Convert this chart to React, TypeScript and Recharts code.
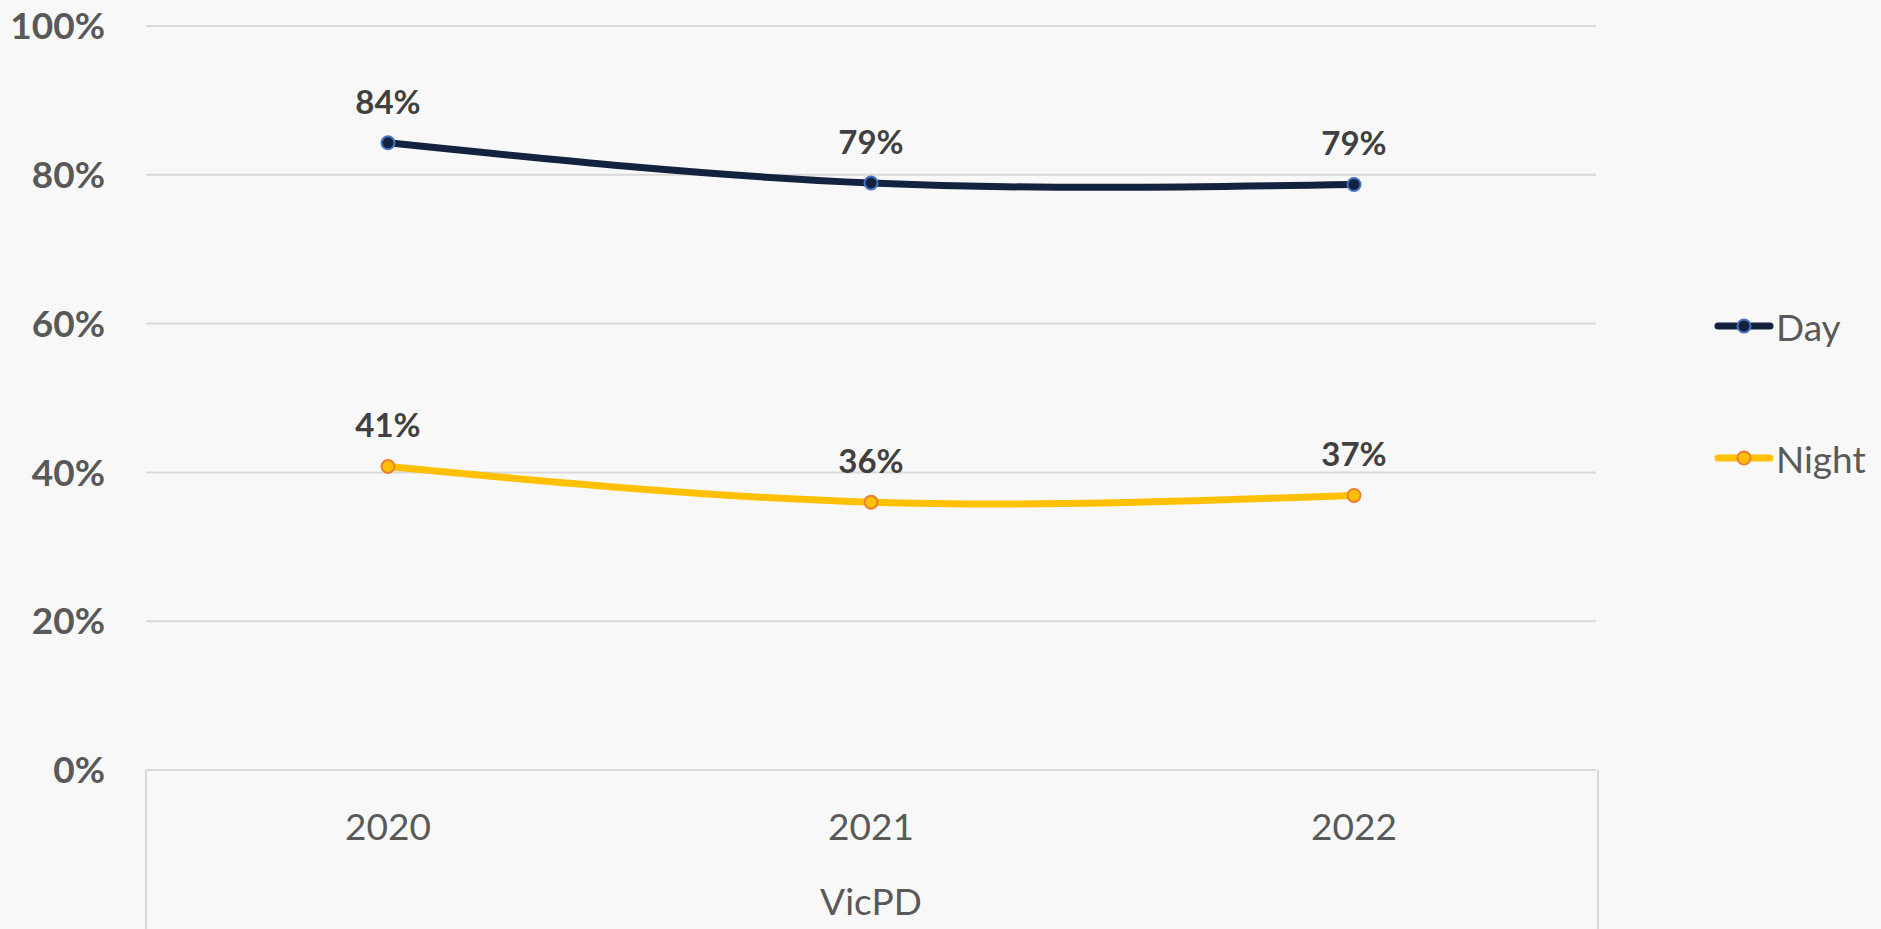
import React from 'react';
import {
  LineChart,
  Line,
  XAxis,
  YAxis,
  CartesianGrid,
  Legend,
  LabelList,
} from 'recharts';

document.body.style.margin = '0';

const YEARS = ['2020', '2021', '2022'];
const DAY = [0.843, 0.789, 0.787];
const NIGHT = [0.408, 0.36, 0.369];
const Y_TICKS = [0, 0.2, 0.4, 0.6, 0.8, 1];

const FONT = 'Lato, "Open Sans", sans-serif';
const W = 1881;
const H = 929;
const LEGEND_W = 170;
const PLOT_LEFT = 146;
const PLOT_RIGHT = 1596;
const AXIS_Y = 770;
// legend (vertical, right) eats LEGEND_W from the right offset
const MARGIN = { top: 26, right: W - PLOT_RIGHT - LEGEND_W, left: 0, bottom: 0 };
const HALF_BAND = Math.round((PLOT_RIGHT - PLOT_LEFT) / YEARS.length / 2);

const data = YEARS.map((year, i) => ({ year, day: DAY[i], night: NIGHT[i] }));

const pct = (v: number) => `${Math.round(v * 100)}%`;

function XTick(props: any) {
  const { x, y, payload } = props;
  return (
    <text
      x={x}
      y={y + 53}
      textAnchor="middle"
      dominantBaseline="central"
      fontFamily={FONT}
      fontSize={37}
      fill="#595959"
    >
      {payload.value}
    </text>
  );
}

function LegendContent(props: any) {
  const items = props.payload || [];
  return (
    <div style={{ fontFamily: FONT }}>
      {items.map((it: any) => {
        const fill = it.payload?.dot?.fill ?? it.color;
        const stroke = it.payload?.dot?.stroke ?? it.color;
        return (
          <div key={it.value} style={{ display: 'flex', alignItems: 'center', height: 40, marginBottom: 92 }}>
            <svg width={60} height={20} style={{ marginRight: 2 }}>
              <line x1={4} y1={10} x2={56} y2={10} stroke={it.color} strokeWidth={7} strokeLinecap="round" />
              <circle cx={30} cy={10} r={6.5} fill={fill} stroke={stroke} strokeWidth={2} />
            </svg>
            <span style={{ fontSize: 37, color: '#595959' }}>{it.value}</span>
          </div>
        );
      })}
    </div>
  );
}

const labelProps = {
  position: 'top' as const,
  offset: 29,
  formatter: pct,
  fill: '#404040',
  fontSize: 33,
  fontWeight: 700,
  fontFamily: FONT,
};

export default function App() {
  return (
    <div style={{ position: 'relative', width: W, height: H, background: '#F8F8F8' }}>
      <LineChart width={W} height={H} data={data} margin={MARGIN}>
        <CartesianGrid vertical={false} stroke="#D9D9D9" strokeWidth={2} />
        <XAxis
          dataKey="year"
          height={H - AXIS_Y}
          padding={{ left: HALF_BAND, right: HALF_BAND }}
          axisLine={{ stroke: '#D9D9D9', strokeWidth: 2 }}
          tickLine={false}
          tickSize={0}
          tick={<XTick />}
          interval={0}
          label={{
            value: 'VicPD',
            position: 'insideBottom',
            offset: 14,
            fill: '#595959',
            fontSize: 37,
            fontFamily: FONT,
          }}
        />
        <YAxis
          width={PLOT_LEFT}
          domain={[0, 1]}
          ticks={Y_TICKS}
          tickFormatter={pct}
          axisLine={false}
          tickLine={false}
          tickSize={0}
          tickMargin={41}
          tick={{ fontSize: 37, fontWeight: 700, fill: '#595959', fontFamily: FONT }}
        />
        <Legend
          layout="vertical"
          verticalAlign="top"
          align="right"
          content={<LegendContent />}
          wrapperStyle={{ left: 1714, top: 306, width: LEGEND_W }}
        />
        <Line
          name="Day"
          dataKey="day"
          type="natural"
          stroke="#13233F"
          strokeWidth={7}
          dot={{ r: 6.5, fill: '#13233F', stroke: '#4472C4', strokeWidth: 2 }}
          activeDot={false}
          isAnimationActive={false}
        >
          <LabelList dataKey="day" {...labelProps} />
        </Line>
        <Line
          name="Night"
          dataKey="night"
          type="natural"
          stroke="#FFC000"
          strokeWidth={7}
          dot={{ r: 6.5, fill: '#FFC000', stroke: '#ED7D31', strokeWidth: 2 }}
          activeDot={false}
          isAnimationActive={false}
        >
          <LabelList dataKey="night" {...labelProps} />
        </Line>
      </LineChart>
      <div
        style={{
          position: 'absolute',
          left: PLOT_LEFT - 1,
          top: AXIS_Y,
          width: PLOT_RIGHT - PLOT_LEFT,
          height: H - AXIS_Y,
          borderLeft: '2px solid #D9D9D9',
          borderRight: '2px solid #D9D9D9',
          pointerEvents: 'none',
        }}
      />
    </div>
  );
}
